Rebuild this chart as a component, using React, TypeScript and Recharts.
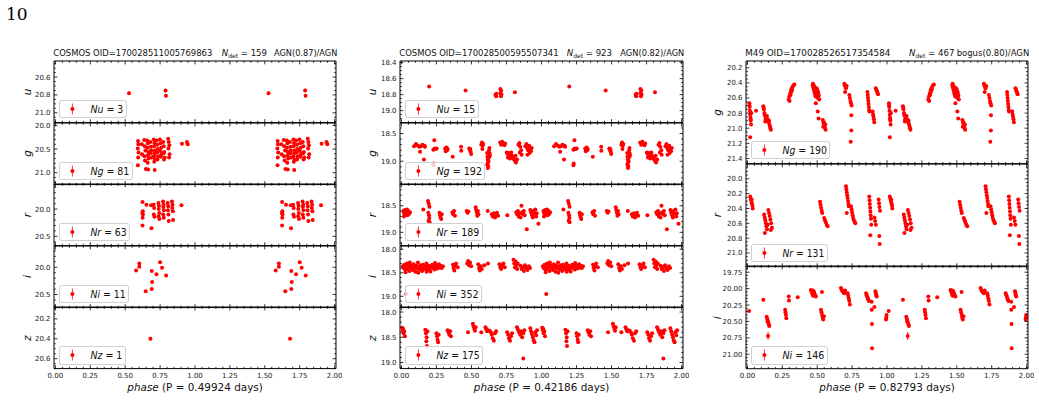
import React from "react";
import { ScatterChart, Scatter, XAxis, YAxis, ErrorBar, ReferenceArea } from "recharts";

type Pt = [number, number, number?];

const FONT = '"DejaVu Sans", sans-serif';
const RED = "#ff0000";

const X_TICKS = [0, 0.25, 0.5, 0.75, 1.0, 1.25, 1.5, 1.75, 2.0];
const X_TICK_LABELS = ["0.00", "0.25", "0.50", "0.75", "1.00", "1.25", "1.50", "1.75", "2.00"];

const TITLE_FIELDS = ["COSMOS", "COSMOS", "M49"];
const TITLE_OIDS = ["170028511005769863", "170028500595507341", "170028526517354584"];
const TITLE_NDET = ["159", "923", "467"];
const TITLE_CLASS = ["AGN(0.87)/AGN", "AGN(0.82)/AGN", "bogus(0.80)/AGN"];
const PERIODS = ["0.49924", "0.42186", "0.82793"];

// ---------- Column 1 (phase, mag, err) ----------
const U1: Pt[] = [[0.527, 20.78, 0.02], [0.789, 20.75, 0.02], [0.792, 20.81, 0.02]];
const G1: Pt[] = [
  [0.592, 20.33], [0.594, 20.4], [0.59, 20.49], [0.596, 20.57], [0.593, 20.68], [0.591, 20.84],
  [0.619, 20.4], [0.621, 20.61],
  [0.636, 20.31], [0.64, 20.44], [0.645, 20.53], [0.638, 20.65], [0.642, 20.74], [0.648, 20.92],
  [0.658, 20.32], [0.662, 20.38], [0.66, 20.47], [0.665, 20.56], [0.663, 20.63], [0.667, 20.7], [0.661, 20.79], [0.664, 20.93],
  [0.68, 20.35], [0.684, 20.45], [0.686, 20.53], [0.682, 20.59], [0.688, 20.68],
  [0.705, 20.3], [0.709, 20.37], [0.707, 20.44], [0.712, 20.53], [0.71, 20.59], [0.706, 20.65], [0.713, 20.72], [0.708, 20.77], [0.711, 20.94],
  [0.725, 20.32], [0.73, 20.41], [0.733, 20.5], [0.728, 20.57], [0.735, 20.65], [0.731, 20.72],
  [0.749, 20.3], [0.753, 20.38], [0.757, 20.47], [0.751, 20.54], [0.759, 20.61], [0.755, 20.66],
  [0.772, 20.35], [0.776, 20.44], [0.78, 20.56], [0.774, 20.59], [0.783, 20.68], [0.778, 20.72],
  [0.808, 20.28], [0.812, 20.35], [0.816, 20.42], [0.81, 20.49], [0.818, 20.61], [0.814, 20.68],
  [0.907, 20.39], [0.942, 20.35], [0.948, 20.4],
];
const R1: Pt[] = [
  [0.624, 19.87], [0.626, 20.04], [0.623, 20.07], [0.627, 20.1], [0.625, 20.16], [0.624, 20.3],
  [0.652, 19.92], [0.688, 20.35], [0.686, 19.93],
  [0.703, 19.92], [0.707, 19.98], [0.705, 20.1], [0.709, 20.14],
  [0.738, 19.89], [0.742, 19.94], [0.74, 20.0], [0.744, 20.07], [0.739, 20.13], [0.745, 20.18],
  [0.771, 19.86], [0.775, 19.92], [0.773, 19.96], [0.777, 20.02], [0.772, 20.1], [0.776, 20.16],
  [0.804, 19.89], [0.808, 19.95], [0.806, 20.02], [0.81, 20.1], [0.812, 20.22],
  [0.835, 19.86], [0.839, 19.92], [0.837, 19.98], [0.841, 20.04], [0.843, 20.2],
  [0.903, 19.93],
];
const I1: Pt[] = [
  [0.578, 20.06], [0.601, 19.93], [0.601, 19.99], [0.647, 20.44], [0.69, 20.07], [0.693, 20.27],
  [0.69, 20.4], [0.724, 20.13], [0.75, 19.91], [0.764, 20.01], [0.793, 20.15],
];
const Z1: Pt[] = [[0.681, 20.4]];

// ---------- Column 2 ----------
const U2: Pt[] = [
  [0.198, 18.7], [0.458, 18.75], [0.672, 18.8], [0.676, 18.82], [0.68, 18.79], [0.706, 18.73],
  [0.712, 18.75], [0.708, 18.78], [0.71, 18.82], [0.714, 18.8], [0.81, 18.77],
];
const G2: Pt[] = [
  [0.09, 18.73], [0.104, 18.69], [0.118, 18.72], [0.128, 18.74], [0.14, 18.73], [0.15, 18.7], [0.165, 18.72], [0.168, 18.74], [0.133, 18.83], [0.161, 18.97],
  [0.235, 18.62], [0.228, 18.79], [0.236, 18.77], [0.244, 18.78], [0.252, 18.77], [0.23, 19.04], [0.228, 19.07],
  [0.312, 18.77], [0.318, 18.79], [0.322, 18.75], [0.326, 18.8], [0.33, 18.78], [0.316, 18.82],
  [0.366, 18.92], [0.426, 18.74], [0.427, 18.81],
  [0.484, 18.77], [0.49, 18.8], [0.494, 18.83], [0.498, 18.87], [0.492, 18.78],
  [0.57, 18.7], [0.575, 18.66], [0.58, 18.72], [0.578, 18.78], [0.584, 18.69],
  [0.612, 18.85], [0.614, 18.92], [0.616, 18.97], [0.618, 19.02], [0.613, 19.06], [0.62, 19.09], [0.617, 19.12], [0.622, 19.0], [0.624, 18.93], [0.626, 18.8], [0.628, 18.76], [0.63, 18.86], [0.632, 18.9],
  [0.705, 18.66], [0.712, 18.7], [0.72, 18.65], [0.728, 18.68], [0.735, 18.71], [0.74, 18.68],
  [0.752, 18.84], [0.758, 18.87], [0.762, 18.85], [0.768, 18.9], [0.772, 18.86], [0.778, 18.88], [0.784, 18.84], [0.788, 18.9],
  [0.76, 18.93], [0.775, 18.95], [0.79, 18.93],
  [0.8, 18.96], [0.81, 18.99], [0.818, 19.02], [0.826, 18.97], [0.805, 18.92], [0.815, 18.9],
  [0.835, 18.7], [0.842, 18.67], [0.848, 18.74], [0.855, 18.8], [0.845, 18.84], [0.858, 18.88],
  [0.885, 18.73], [0.892, 18.69], [0.898, 18.76], [0.905, 18.8], [0.912, 18.72], [0.918, 18.78], [0.925, 18.82], [0.93, 18.76], [0.9, 18.88], [0.915, 18.85],
];
const R2: Pt[] = [
  [0.014, 18.6], [0.02, 18.64], [0.026, 18.58], [0.032, 18.66], [0.038, 18.62], [0.044, 18.68], [0.05, 18.6], [0.056, 18.65], [0.061, 18.62], [0.018, 18.7], [0.04, 18.57],
  [0.156, 18.57],
  [0.19, 18.41], [0.195, 18.46], [0.2, 18.52], [0.192, 18.63], [0.197, 18.68], [0.199, 18.73], [0.194, 18.78], [0.201, 18.81],
  [0.272, 18.63], [0.276, 18.68], [0.28, 18.72], [0.284, 18.75], [0.288, 18.66],
  [0.364, 18.62], [0.37, 18.66], [0.376, 18.6], [0.382, 18.69],
  [0.466, 18.6], [0.472, 18.63], [0.478, 18.61],
  [0.53, 18.53], [0.534, 18.58], [0.538, 18.63], [0.542, 18.69], [0.546, 18.6], [0.55, 18.66],
  [0.616, 18.6],
  [0.645, 18.66], [0.652, 18.7], [0.66, 18.64], [0.668, 18.72], [0.675, 18.67], [0.682, 18.63], [0.69, 18.69],
  [0.756, 18.68],
  [0.82, 18.62], [0.826, 18.66], [0.832, 18.6], [0.838, 18.7], [0.844, 18.64], [0.85, 18.72], [0.857, 18.5], [0.862, 18.62], [0.868, 18.66], [0.874, 18.6], [0.88, 18.68],
  [0.895, 18.94],
  [0.92, 18.58], [0.926, 18.63], [0.932, 18.68], [0.938, 18.72], [0.944, 18.6], [0.95, 18.65], [0.956, 18.57], [0.962, 18.7], [0.966, 18.64],
  [0.978, 18.84],
];
const I2: Pt[] = [
  [0.01, 18.36], [0.016, 18.4], [0.022, 18.33], [0.028, 18.44], [0.034, 18.38], [0.04, 18.3], [0.046, 18.42], [0.052, 18.36], [0.058, 18.46], [0.064, 18.34],
  [0.07, 18.4], [0.076, 18.38], [0.082, 18.44], [0.088, 18.32], [0.094, 18.39], [0.1, 18.48], [0.106, 18.35], [0.112, 18.41], [0.118, 18.28], [0.124, 18.37],
  [0.13, 18.43], [0.136, 18.34], [0.142, 18.4], [0.148, 18.46], [0.154, 18.33], [0.16, 18.38], [0.166, 18.42], [0.172, 18.36], [0.178, 18.3], [0.184, 18.44],
  [0.19, 18.39], [0.196, 18.35], [0.202, 18.41], [0.208, 18.47], [0.214, 18.37], [0.22, 18.33], [0.226, 18.4], [0.232, 18.36], [0.238, 18.43], [0.244, 18.38],
  [0.25, 18.34], [0.256, 18.41], [0.262, 18.37], [0.268, 18.32], [0.274, 18.39], [0.28, 18.35], [0.288, 18.4], [0.296, 18.36],
  [0.06, 18.28], [0.12, 18.5], [0.18, 18.48], [0.24, 18.29], [0.03, 18.49],
  [0.368, 18.33], [0.372, 18.4], [0.378, 18.45], [0.384, 18.36], [0.39, 18.3], [0.402, 18.38],
  [0.47, 18.3], [0.476, 18.25], [0.482, 18.34], [0.49, 18.28], [0.498, 18.36],
  [0.548, 18.32], [0.554, 18.4], [0.56, 18.45], [0.566, 18.36], [0.574, 18.42], [0.592, 18.34],
  [0.618, 18.3],
  [0.7, 18.32], [0.706, 18.38], [0.712, 18.42], [0.72, 18.35], [0.728, 18.3], [0.738, 18.38],
  [0.8, 18.22], [0.805, 18.3], [0.81, 18.38], [0.815, 18.26], [0.82, 18.34], [0.826, 18.42], [0.83, 18.3],
  [0.85, 18.35], [0.858, 18.42], [0.866, 18.38], [0.874, 18.46], [0.882, 18.34], [0.89, 18.4], [0.9, 18.44], [0.91, 18.36], [0.918, 18.4],
  [0.034, 18.95],
];
const Z2: Pt[] = [
  [0.005, 18.31], [0.01, 18.36], [0.015, 18.42], [0.02, 18.38], [0.025, 18.48], [0.012, 18.33],
  [0.17, 18.35], [0.175, 18.42], [0.18, 18.5], [0.178, 18.58], [0.182, 18.67], [0.186, 18.38],
  [0.25, 18.42], [0.254, 18.48], [0.258, 18.55], [0.262, 18.6], [0.266, 18.45],
  [0.33, 18.36], [0.336, 18.4], [0.342, 18.45], [0.348, 18.38], [0.354, 18.48],
  [0.475, 18.4],
  [0.51, 18.23], [0.515, 18.28], [0.52, 18.33], [0.525, 18.37], [0.53, 18.3],
  [0.57, 18.4],
  [0.6, 18.3], [0.606, 18.34], [0.612, 18.38], [0.618, 18.36],
  [0.63, 18.37], [0.638, 18.4], [0.645, 18.45], [0.652, 18.52], [0.66, 18.57], [0.668, 18.42], [0.676, 18.38],
  [0.755, 18.4], [0.762, 18.45], [0.768, 18.52], [0.775, 18.57], [0.782, 18.48], [0.79, 18.42],
  [0.825, 18.3], [0.832, 18.35], [0.84, 18.4], [0.848, 18.45], [0.855, 18.38], [0.862, 18.5], [0.87, 18.42], [0.878, 18.36], [0.87, 18.92],
  [0.92, 18.32], [0.926, 18.38], [0.932, 18.44], [0.938, 18.5], [0.944, 18.56], [0.95, 18.6], [0.956, 18.4], [0.962, 18.46], [0.968, 18.36],
];

// ---------- Column 3 ----------
const G3: Pt[] = [
  [0.014, 20.67], [0.016, 20.72], [0.018, 20.77], [0.02, 20.82], [0.022, 20.86], [0.024, 20.9], [0.026, 20.95], [0.028, 20.8], [0.02, 21.12], [0.015, 20.7], [0.023, 20.88],
  [0.062, 20.77],
  [0.114, 20.71], [0.118, 20.75], [0.122, 20.8], [0.126, 20.84], [0.13, 20.88], [0.128, 20.91], [0.116, 20.73], [0.124, 20.82],
  [0.14, 20.84], [0.146, 20.88], [0.152, 20.92], [0.158, 20.95], [0.162, 20.98], [0.168, 21.02], [0.155, 20.9], [0.149, 20.9], [0.165, 21.0],
  [0.296, 20.62], [0.3, 20.58], [0.306, 20.54], [0.312, 20.5], [0.318, 20.47], [0.324, 20.45], [0.33, 20.43], [0.336, 20.42], [0.302, 20.64], [0.315, 20.52], [0.309, 20.56], [0.321, 20.49],
  [0.468, 20.43], [0.472, 20.46], [0.476, 20.49], [0.48, 20.52], [0.484, 20.55], [0.488, 20.58], [0.492, 20.5], [0.496, 20.47], [0.5, 20.55], [0.504, 20.6], [0.508, 20.53], [0.512, 20.57], [0.515, 20.62], [0.47, 20.41], [0.49, 20.67],
  [0.478, 20.44], [0.486, 20.48], [0.494, 20.53], [0.502, 20.5],
  [0.504, 20.78], [0.51, 20.87],
  [0.54, 20.89], [0.545, 20.93], [0.55, 20.96], [0.555, 20.99], [0.56, 21.02], [0.548, 20.92], [0.558, 20.95], [0.543, 20.98],
  [0.694, 20.41], [0.698, 20.43], [0.702, 20.45], [0.706, 20.47], [0.711, 20.44], [0.7, 20.52],
  [0.73, 20.56], [0.734, 20.6], [0.738, 20.64], [0.742, 20.67], [0.746, 20.7], [0.745, 20.83], [0.744, 21.03], [0.74, 21.18],
  [0.86, 20.52], [0.862, 20.56], [0.864, 20.6], [0.866, 20.64], [0.868, 20.68], [0.87, 20.72], [0.872, 20.76], [0.874, 20.78],
  [0.897, 20.78], [0.9, 20.82], [0.903, 20.85], [0.906, 20.88], [0.909, 20.92],
  [0.92, 20.47], [0.924, 20.49], [0.928, 20.51], [0.932, 20.53], [0.936, 20.55],
];
const R3: Pt[] = [
  [0.02, 20.24], [0.024, 20.27], [0.028, 20.3], [0.032, 20.33], [0.036, 20.36], [0.038, 20.4], [0.03, 20.28],
  [0.12, 20.48], [0.124, 20.52], [0.128, 20.56], [0.132, 20.6], [0.136, 20.64], [0.14, 20.68], [0.125, 20.73], [0.145, 20.62],
  [0.15, 20.42], [0.155, 20.46], [0.16, 20.5], [0.165, 20.55], [0.17, 20.6], [0.176, 20.66], [0.168, 20.69],
  [0.52, 20.31], [0.524, 20.35], [0.528, 20.39], [0.532, 20.43], [0.536, 20.46],
  [0.55, 20.53], [0.556, 20.56], [0.562, 20.59], [0.568, 20.62], [0.575, 20.64],
  [0.706, 20.1], [0.709, 20.14], [0.712, 20.18], [0.715, 20.22], [0.718, 20.26], [0.721, 20.3], [0.724, 20.34], [0.726, 20.37], [0.712, 20.46],
  [0.742, 20.37], [0.746, 20.41], [0.75, 20.45], [0.754, 20.49], [0.758, 20.53], [0.763, 20.56], [0.768, 20.58], [0.773, 20.6],
  [0.873, 20.24], [0.875, 20.29], [0.877, 20.34], [0.879, 20.39], [0.881, 20.44], [0.883, 20.49], [0.885, 20.54], [0.887, 20.62], [0.88, 20.76],
  [0.91, 20.52], [0.915, 20.57], [0.92, 20.62],
  [0.94, 20.28], [0.943, 20.33], [0.946, 20.38], [0.95, 20.43], [0.945, 20.77], [0.948, 20.88],
];
const I3: Pt[] = [
  [0.012, 20.34], [0.114, 20.17],
  [0.138, 20.43], [0.142, 20.46], [0.146, 20.49], [0.15, 20.52], [0.154, 20.55], [0.157, 20.57], [0.144, 20.5],
  [0.148, 20.72, 0.06],
  [0.27, 20.32], [0.273, 20.36], [0.276, 20.4], [0.279, 20.45], [0.296, 20.12], [0.298, 20.18],
  [0.36, 20.13],
  [0.455, 20.02], [0.46, 20.05], [0.465, 20.08], [0.47, 20.11], [0.475, 20.04], [0.48, 20.07], [0.485, 20.1], [0.49, 20.12], [0.468, 20.03],
  [0.534, 20.05],
  [0.527, 20.32], [0.531, 20.36], [0.535, 20.4], [0.539, 20.44], [0.543, 20.47], [0.548, 20.42],
  [0.67, 19.99], [0.676, 20.02], [0.682, 20.04], [0.688, 20.06], [0.694, 20.07], [0.7, 20.03],
  [0.718, 20.07], [0.722, 20.11], [0.726, 20.15], [0.73, 20.19], [0.734, 20.24],
  [0.85, 20.07], [0.855, 20.1], [0.86, 20.13], [0.865, 20.16], [0.87, 20.19],
  [0.89, 20.2], [0.89, 20.32], [0.892, 20.54], [0.91, 20.28], [0.893, 20.91],
  [0.917, 20.04], [0.92, 20.07], [0.923, 20.1], [0.926, 20.12],
  [0.993, 20.47], [0.995, 20.44], [0.997, 20.4],
];

// ---------- Panel specs ----------
type Spec = { col: number; row: number; band: string; n: string; pts: Pt[]; dom: [number, number]; major: number[]; minor: number; dec: number; legW: number };
const SPECS: Spec[] = [
  { col: 0, row: 0, band: "u", n: "3", pts: U1, dom: [20.42, 21.11], major: [20.6, 20.8, 21.0], minor: 0.05, dec: 1, legW: 67.4 },
  { col: 0, row: 1, band: "g", n: "81", pts: G1, dom: [19.95, 21.25], major: [20.0, 20.5, 21.0], minor: 0.1, dec: 1, legW: 73.4 },
  { col: 0, row: 2, band: "r", n: "63", pts: R1, dom: [19.54, 20.67], major: [20.0, 20.5], minor: 0.1, dec: 1, legW: 70.7 },
  { col: 0, row: 3, band: "i", n: "11", pts: I1, dom: [19.61, 20.74], major: [20.0, 20.5], minor: 0.1, dec: 1, legW: 69.7 },
  { col: 0, row: 4, band: "z", n: "1", pts: Z1, dom: [20.08, 20.7], major: [20.2, 20.4, 20.6], minor: 0.05, dec: 1, legW: 66.4 },
  { col: 1, row: 0, band: "u", n: "15", pts: U2, dom: [18.38, 19.15], major: [18.4, 18.6, 18.8, 19.0], minor: 0.05, dec: 1, legW: 73.3 },
  { col: 1, row: 1, band: "g", n: "192", pts: G2, dom: [18.31, 19.42], major: [18.5, 19.0], minor: 0.1, dec: 1, legW: 80 },
  { col: 1, row: 2, band: "r", n: "189", pts: R2, dom: [18.09, 19.25], major: [18.5, 19.0], minor: 0.1, dec: 1, legW: 77.3 },
  { col: 1, row: 3, band: "i", n: "352", pts: I2, dom: [17.93, 19.24], major: [18.0, 18.5, 19.0], minor: 0.1, dec: 1, legW: 76.7 },
  { col: 1, row: 4, band: "z", n: "175", pts: Z2, dom: [17.9, 19.12], major: [18.0, 18.5, 19.0], minor: 0.1, dec: 1, legW: 77.7 },
  { col: 2, row: 0, band: "g", n: "190", pts: G3, dom: [20.11, 21.47], major: [20.2, 20.4, 20.6, 20.8, 21.0, 21.2, 21.4], minor: 0.05, dec: 1, legW: 79 },
  { col: 2, row: 1, band: "r", n: "131", pts: R3, dom: [19.8, 21.185], major: [20.0, 20.2, 20.4, 20.6, 20.8, 21.0], minor: 0.05, dec: 1, legW: 76.3 },
  { col: 2, row: 2, band: "i", n: "146", pts: I3, dom: [19.655, 21.22], major: [19.75, 20.0, 20.25, 20.5, 20.75, 21.0], minor: 0.05, dec: 2, legW: 76.3 },
];

const COLS = [
  { left: 54, w: 282, top: 61, h: 61.6, rows: 5, ylab: 31, ndetX: 221.7, tl: 159, tr: 63.3 },
  { left: 400, w: 283, top: 61, h: 61.6, rows: 5, ylab: 376, ndetX: 566.7, tl: 159.3, tr: 64 },
  { left: 746, w: 282, top: 61, h: 102.7, rows: 3, ylab: 721, ndetX: 909, tl: 145, tr: 72.6 },
];

const LM = 40, TM = 8, RM = 6;

function Panel({ spec }: { spec: Spec }) {
  const c = COLS[spec.col];
  const left = c.left, w = c.w, h = c.h;
  const top = c.top + spec.row * c.h;
  const showX = spec.row === c.rows - 1;
  const BM = showX ? 16 : 8;
  const W = LM + w + RM, H = TM + h + BM;
  const pl = LM, pr = LM + w, pt = TM, pb = TM + h;

  const data: { x: number; y: number; e: number }[] = [];
  for (const p of spec.pts) {
    data.push({ x: p[0], y: p[1], e: p[2] || 0 });
    data.push({ x: p[0] + 1, y: p[1], e: p[2] || 0 });
  }
  const yTicks: number[] = [];
  const k0 = Math.ceil(spec.dom[0] / spec.minor - 1e-6);
  const k1 = Math.floor(spec.dom[1] / spec.minor + 1e-6);
  for (let k = k0; k <= k1; k++) yTicks.push(+(k * spec.minor).toFixed(4));
  for (const m of spec.major) if (!yTicks.some((t) => Math.abs(t - m) < 1e-6)) yTicks.push(m);
  yTicks.sort((a, b) => a - b);
  const xTicks: number[] = [];
  for (let k = 0; k <= 40; k++) xTicks.push(+(k * 0.05).toFixed(3));

  const isMajorY = (v: number) => spec.major.some((m) => Math.abs(m - v) < 1e-6);
  const majorXIdx = (v: number) => X_TICKS.findIndex((m) => Math.abs(m - v) < 1e-6);

  const mkYTick = (side: "l" | "r") => (props: any) => {
    const { y, payload } = props;
    const v = payload.value as number;
    const mj = isMajorY(v);
    const len = mj ? 3.4 : 1.8;
    const x0 = side === "l" ? pl : pr;
    const dir = side === "l" ? 1 : -1;
    return (
      <g>
        <line x1={x0} x2={x0 + dir * len} y1={y} y2={y} stroke="#000" strokeWidth={0.8} />
        {mj && side === "l" && (
          <text x={pl - 3.5} y={y} dy={2.5} textAnchor="end" fontSize={7} fill="#222" fontFamily={FONT}>
            {v.toFixed(spec.dec)}
          </text>
        )}
      </g>
    );
  };
  const mkXTick = (side: "b" | "t") => (props: any) => {
    const { x, payload } = props;
    const v = payload.value as number;
    const idx = majorXIdx(v);
    const mj = idx >= 0;
    const len = mj ? 3.4 : 1.8;
    const y0 = side === "b" ? pb : pt;
    const dir = side === "b" ? -1 : 1;
    return (
      <g>
        <line x1={x} x2={x} y1={y0} y2={y0 + dir * len} stroke="#000" strokeWidth={0.8} />
        {mj && showX && side === "b" && (
          <text x={x} y={pb + 9.6} textAnchor="middle" fontSize={7} fill="#222" fontFamily={FONT}>
            {X_TICK_LABELS[idx]}
          </text>
        )}
      </g>
    );
  };
  const Dot = (props: any) => <circle cx={props.cx} cy={props.cy} r={2} fill={RED} />;
  const XB = mkXTick("b"), XT = mkXTick("t"), YL = mkYTick("l"), YR = mkYTick("r");

  return (
    <div style={{ position: "absolute", left: left - LM, top: top - TM, width: W, height: H }}>
      <ScatterChart width={W} height={H} margin={{ top: 0, right: 0, bottom: 0, left: 0 }}>
        <XAxis xAxisId="b" dataKey="x" type="number" domain={[-0.01, 2.01]} allowDataOverflow ticks={xTicks} interval={0}
          height={BM} orientation="bottom" tickLine={false} axisLine={false} tick={<XB />} />
        <XAxis xAxisId="t" dataKey="x" type="number" domain={[-0.01, 2.01]} allowDataOverflow ticks={xTicks} interval={0}
          height={TM} orientation="top" tickLine={false} axisLine={false} tick={<XT />} />
        <YAxis yAxisId="l" dataKey="y" type="number" domain={spec.dom} allowDataOverflow reversed ticks={yTicks} interval={0}
          width={LM} orientation="left" tickLine={false} axisLine={false} tick={<YL />} />
        <YAxis yAxisId="r" dataKey="y" type="number" domain={spec.dom} allowDataOverflow reversed ticks={yTicks} interval={0}
          width={RM} orientation="right" tickLine={false} axisLine={false} tick={<YR />} />
        <ReferenceArea xAxisId="b" yAxisId="l" x1={-0.01} x2={2.01} y1={spec.dom[0]} y2={spec.dom[1]}
          fill="none" fillOpacity={0} stroke="#000" strokeWidth={1} ifOverflow="visible" />
        <Scatter xAxisId="b" yAxisId="l" data={data} fill={RED} shape={<Dot />} isAnimationActive={false}>
          <ErrorBar dataKey="e" direction="y" width={0} stroke={RED} strokeWidth={1} />
        </Scatter>
      </ScatterChart>
    </div>
  );
}

function Legend({ spec }: { spec: Spec }) {
  const c = COLS[spec.col];
  const top = c.top + spec.row * c.h;
  const H = 18.3;
  return (
    <div
      style={{
        position: "absolute",
        left: c.left + 5.3,
        top: top + c.h - 4.4 - H,
        width: spec.legW,
        height: H,
        boxSizing: "border-box",
        border: "1px solid rgba(204,204,204,0.9)",
        borderRadius: 3,
        background: "rgba(255,255,255,0.8)",
      }}
    >
      <svg width={spec.legW - 2} height={H - 2} style={{ display: "block" }}>
        <line x1={12.4} x2={12.4} y1={2.5} y2={13.5} stroke={RED} strokeWidth={1} opacity={0.8} />
        <circle cx={12.4} cy={8} r={2} fill={RED} />
        <text x={30.4} y={11.6} fontFamily={FONT} fontSize={9.6} fill="#111" textLength={spec.legW - 31.4 - 3} lengthAdjust="spacingAndGlyphs" style={{ whiteSpace: "pre" }}>
          <tspan fontStyle="italic">{"N" + spec.band}</tspan>
          <tspan>{" = " + spec.n}</tspan>
        </text>
      </svg>
    </div>
  );
}

function Overlay() {
  return (
    <svg width={1039} height={400} style={{ position: "absolute", left: 0, top: 0 }}>
      <text x={6} y={20} fontFamily="'DejaVu Serif', serif" fontSize={17} fill="#000">10</text>
      {COLS.map((c, i) => (
        <g key={"t" + i} fontFamily={FONT} fontSize={8.6} fill="#111" style={{ whiteSpace: "pre" }}>
          <text x={c.left - 0.7} y={56} textLength={c.tl} lengthAdjust="spacingAndGlyphs">
            {TITLE_FIELDS[i] + "  OID=" + TITLE_OIDS[i]}
          </text>
          <text x={c.ndetX} y={56}>
            <tspan fontStyle="italic">N</tspan>
            <tspan fontSize={6} dy={2}>det</tspan>
            <tspan dy={-2}>{" = " + TITLE_NDET[i]}</tspan>
          </text>
          <text x={c.left + c.w + 1.3 - c.tr} y={56} textLength={c.tr} lengthAdjust="spacingAndGlyphs">
            {TITLE_CLASS[i]}
          </text>
          <text x={c.left + c.w / 2 - 67.7} y={390.5} fontSize={10.4} textLength={135.5} lengthAdjust="spacingAndGlyphs">
            <tspan fontStyle="italic">phase</tspan>
            <tspan>{" (P = " + PERIODS[i] + " days)"}</tspan>
          </text>
        </g>
      ))}
      {SPECS.map((s, i) => {
        const c = COLS[s.col];
        const cy = c.top + s.row * c.h + c.h / 2;
        return (
          <text key={"y" + i} transform={`translate(${c.ylab},${cy}) rotate(-90)`} textAnchor="middle"
            fontFamily={FONT} fontSize={10.5} fontStyle="italic" fill="#111">
            {s.band}
          </text>
        );
      })}
    </svg>
  );
}

export default function App() {
  return (
    <div style={{ position: "absolute", left: 0, top: 0, width: 1039, height: 400, background: "#fff", overflow: "hidden" }}>
      <Overlay />
      {SPECS.map((s, i) => (
        <Panel key={"p" + i} spec={s} />
      ))}
      {SPECS.map((s, i) => (
        <Legend key={"l" + i} spec={s} />
      ))}
    </div>
  );
}
